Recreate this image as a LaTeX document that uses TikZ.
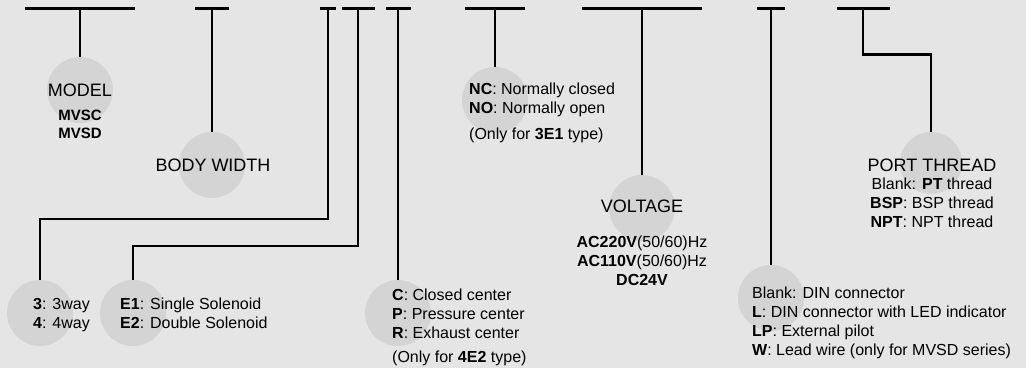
\documentclass[tikz,border=0pt]{standalone}
\usepackage{fontspec}
\setmainfont{Liberation Sans}
\definecolor{pagegray}{RGB}{229,229,229}
\definecolor{ballgray}{RGB}{212,212,212}
\usetikzlibrary{positioning}
\tikzset{
  bar/.style={fill=black, inner sep=0pt, minimum height=3pt},
  stem/.style={draw=black, line width=2pt},
  ball/.style={circle, fill=ballgray, inner sep=0pt, minimum size=66pt},
  bigtxt/.style={font=\fontsize{18}{20}\selectfont, inner sep=0pt},
  smalltxt/.style={font=\fontsize{16}{19}\selectfont, inner sep=0pt, align=left},
  midtxt/.style={font=\fontsize{16}{19}\selectfont, inner sep=0pt, align=center}
}
\begin{document}
\begin{tikzpicture}[x=1pt, y=-1pt]
\fill[pagegray] (0,0) rectangle (1026,368);
% bars on top
\node[bar, minimum width=110pt] (b1) at (80,8) {};
\node[bar, minimum width=34pt] (b2) at (212,8) {};
\node[bar, minimum width=16pt] (b3) at (328,8) {};
\node[bar, minimum width=33pt] (b4) at (358,8) {};
\node[bar, minimum width=25pt] (b5) at (398,8) {};
\node[bar, minimum width=60pt] (b6) at (495,8) {};
\node[bar, minimum width=120pt] (b7) at (642,8) {};
\node[bar, minimum width=28pt] (b8) at (771,8) {};
\node[bar, minimum width=53pt] (b9) at (863,8) {};
% balls
\node[ball] (model) at (80,90) {};
\node[ball] (width) at (212,165) {};
\node[ball] (way) at (40,313) {};
\node[ball] (sol) at (133,313) {};
\node[ball] (center) at (398,313) {};
\node[ball] (nc) at (495,100) {};
\node[ball] (volt) at (642,208) {};
\node[ball] (din) at (771,298) {};
\node[ball, minimum size=62pt] (port) at (931,163) {};
% stems
\draw[stem] (b1.south) -- (model.north);
\draw[stem] (b2.south) -- (width.north);
\draw[stem] (b3.south) -- ++(0,209) -| (way.north);
\draw[stem] (b4.south) -- ++(0,236) -| (sol.north);
\draw[stem] (b5.south) -- (center.north);
\draw[stem] (b6.south) -- (nc.north);
\draw[stem] (b7.south) -- (volt.north);
\draw[stem] (b8.south) -- (din.north);
\draw[stem, line width=2.6pt] (b9.south) -- ++(0,45) -| (port.north);
% texts
\node[bigtxt] (modeltxt) at (80,90) {MODEL};
\node[midtxt, font=\fontsize{15}{18}\selectfont\bfseries, anchor=north] (modelval) at (80,110) {MVSC\\MVSD};
\node[bigtxt] (widthtxt) at (213,165) {BODY WIDTH};
\node[smalltxt, anchor=north west] (waytxt) at (33,298) {\textbf{3}: 3way\\\textbf{4}: 4way};
\node[smalltxt, anchor=north west] (soltxt) at (120,298) {\textbf{E1}: Single Solenoid\\\textbf{E2}: Double Solenoid};
\node[smalltxt, anchor=north west] (centertxt) at (392,289) {\textbf{C}: Closed center\\\textbf{P}: Pressure center\\\textbf{R}: Exhaust center};
\node[smalltxt, anchor=north west] (centernote) at (392,351) {(Only for \textbf{4E2} type)};
\node[smalltxt, anchor=north west] (nctxt) at (469,83) {\textbf{NC}: Normally closed\\\textbf{NO}: Normally open};
\node[smalltxt, anchor=north west] (ncnote) at (469,128) {(Only for \textbf{3E1} type)};
\node[bigtxt] (volttxt) at (642,206) {VOLTAGE};
\node[midtxt, anchor=north] (voltval) at (642,236) {\textbf{AC220V}(50/60)Hz\\\textbf{AC110V}(50/60)Hz\\\textbf{DC24V}};
\node[smalltxt, anchor=north west] (dintxt) at (752,287) {Blank: DIN connector\\\textbf{L}: DIN connector with LED indicator\\\textbf{LP}: External pilot\\\textbf{W}: Lead wire (only for MVSD series)};
\node[bigtxt] (porttxt) at (932,165) {PORT THREAD};
\node[midtxt, anchor=north] (portval) at (932,178) {Blank: \textbf{PT} thread\\\textbf{BSP}: BSP thread\\\textbf{NPT}: NPT thread};
\end{tikzpicture}
\end{document}
